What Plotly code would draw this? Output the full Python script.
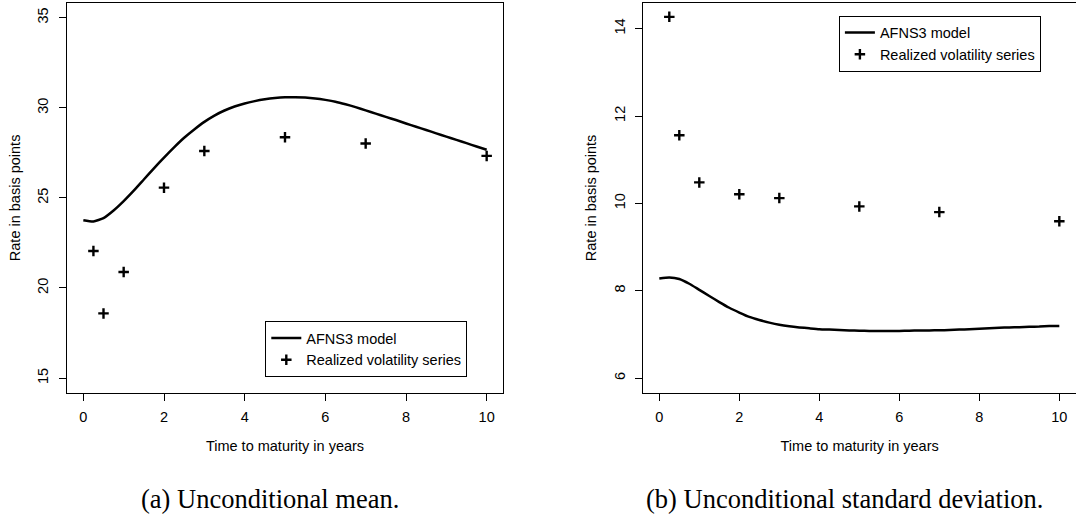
import plotly.graph_objects as go

# ---------------- data ----------------
maturities = [0.25, 0.5, 1, 2, 3, 5, 7, 10]
mean_realized = [22.05, 18.59, 20.89, 25.57, 27.6, 28.37, 28.02, 27.33]
std_realized = [14.27, 11.56, 10.48, 10.21, 10.12, 9.93, 9.80, 9.59]

model_t = [0, 0.25, 0.5, 0.75, 1, 1.25, 1.5, 1.75, 2, 2.25, 2.5, 2.75, 3, 3.25, 3.5,
           3.75, 4, 4.25, 4.5, 4.75, 5, 5.25, 5.5, 5.75, 6, 6.25, 6.5, 6.75, 7, 7.25,
           7.5, 7.75, 8, 8.25, 8.5, 8.75, 9, 9.25, 9.5, 9.75, 10]
mean_model = [23.76, 23.69, 23.88, 24.30, 24.82, 25.40, 26.02, 26.64, 27.24, 27.81,
              28.34, 28.80, 29.22, 29.57, 29.85, 30.07, 30.24, 30.37, 30.47, 30.54,
              30.58, 30.59, 30.57, 30.52, 30.44, 30.34, 30.20, 30.04, 29.86, 29.68,
              29.50, 29.32, 29.13, 28.95, 28.77, 28.58, 28.40, 28.22, 28.04, 27.85, 27.67]
std_model = [8.28, 8.305, 8.27, 8.16, 8.02, 7.88, 7.74, 7.61, 7.50, 7.40,
             7.33, 7.27, 7.22, 7.185, 7.16, 7.14, 7.12, 7.11, 7.10, 7.09,
             7.085, 7.08, 7.08, 7.08, 7.08, 7.085, 7.09, 7.09, 7.095, 7.10,
             7.11, 7.12, 7.13, 7.14, 7.15, 7.16, 7.165, 7.175, 7.18, 7.19, 7.195]

x_ticks = [0, 2, 4, 6, 8, 10]
mean_ticks = [15, 20, 25, 30, 35]
std_ticks = [6, 8, 10, 12, 14]

line_name = "AFNS3 model"
point_name = "Realized volatility series"
x_title = "Time to maturity in years"
y_title = "Rate in basis points"
caption_a = "(a) Unconditional mean."
caption_b = "(b) Unconditional standard deviation."

# ---------------- styling ----------------
W, H = 1076, 514
SANS = "Liberation Sans, Arial, Helvetica, sans-serif"
SERIF = "Liberation Serif, Times New Roman, serif"
FS = 14.5

def px(v):
    return v / W

def py(v):
    return 1 - v / H

fig = go.Figure()

line_style = dict(color="black", width=2.5, shape="spline", smoothing=0.5)
marker_style = dict(symbol="cross-thin", size=7.5, color="black",
                    line=dict(color="black", width=2.4))

fig.add_trace(go.Scatter(x=model_t, y=mean_model, mode="lines", name=line_name,
                         line=line_style, xaxis="x", yaxis="y", legend="legend"))
fig.add_trace(go.Scatter(x=maturities, y=mean_realized, mode="markers", name=point_name,
                         marker=marker_style, xaxis="x", yaxis="y", legend="legend"))
fig.add_trace(go.Scatter(x=model_t, y=std_model, mode="lines", name=line_name,
                         line=line_style, xaxis="x2", yaxis="y2", legend="legend2"))
fig.add_trace(go.Scatter(x=maturities, y=std_realized, mode="markers", name=point_name,
                         marker=marker_style, xaxis="x2", yaxis="y2", legend="legend2"))

ydom = [py(392.5), py(3.3)]

common_x = dict(showline=True, linecolor="black", linewidth=1, ticks="outside",
                ticklen=7, tickwidth=1, tickcolor="black", showgrid=False,
                zeroline=False, ticklabelstandoff=4,
                tickfont=dict(family=SANS, size=FS, color="black"),
                title=dict(text=x_title, font=dict(family=SANS, size=FS, color="black"),
                           standoff=16),
                tickvals=x_ticks, fixedrange=True)
common_y = dict(showline=True, linecolor="black", linewidth=1, ticks="outside",
                ticklen=7, tickwidth=1, tickcolor="black", showgrid=False,
                zeroline=False, tickangle=-90, ticklabelstandoff=5,
                tickfont=dict(family=SANS, size=FS, color="black"),
                title=dict(text=y_title, font=dict(family=SANS, size=FS, color="black"),
                           standoff=11),
                fixedrange=True)

legend_common = dict(bordercolor="black", borderwidth=1, bgcolor="white",
                     font=dict(family=SANS, size=FS, color="black"),
                     tracegroupgap=0, itemwidth=30)

fig.update_layout(
    width=W, height=H, margin=dict(l=0, r=0, t=0, b=0),
    paper_bgcolor="white", plot_bgcolor="white",
    hovermode=False,
    xaxis=dict(common_x, domain=[px(67.2), px(502.8)], range=[-0.4, 10.4],
               anchor="y", mirror=True),
    yaxis=dict(common_y, domain=ydom, range=[14.2, 35.8], anchor="x",
               tickvals=mean_ticks, mirror=True),
    xaxis2=dict(common_x, domain=[px(643.3), 1.0], range=[-0.4, 10.417],
                anchor="y2", mirror=True),
    yaxis2=dict(common_y, domain=ydom, range=[5.67, 14.58], anchor="x2",
                tickvals=std_ticks, mirror=False),
    legend=dict(legend_common, x=px(265.3), xanchor="left", y=py(321), yanchor="top"),
    legend2=dict(legend_common, x=px(838.9), xanchor="left", y=py(15.5), yanchor="top"),
    showlegend=True,
    annotations=[
        dict(text=caption_a, x=px(270), y=py(499.3), xref="paper", yref="paper",
             xanchor="center", yanchor="middle", showarrow=False,
             font=dict(family=SERIF, size=26.5, color="black")),
        dict(text=caption_b, x=px(844.4), y=py(499.3), xref="paper", yref="paper",
             xanchor="center", yanchor="middle", showarrow=False,
             font=dict(family=SERIF, size=26.5, color="black")),
    ],
)

fig.write_html("out.html", config={"displayModeBar": False},
               post_script="document.body.style.margin='0px';"
                           "document.body.style.overflow='hidden';")
